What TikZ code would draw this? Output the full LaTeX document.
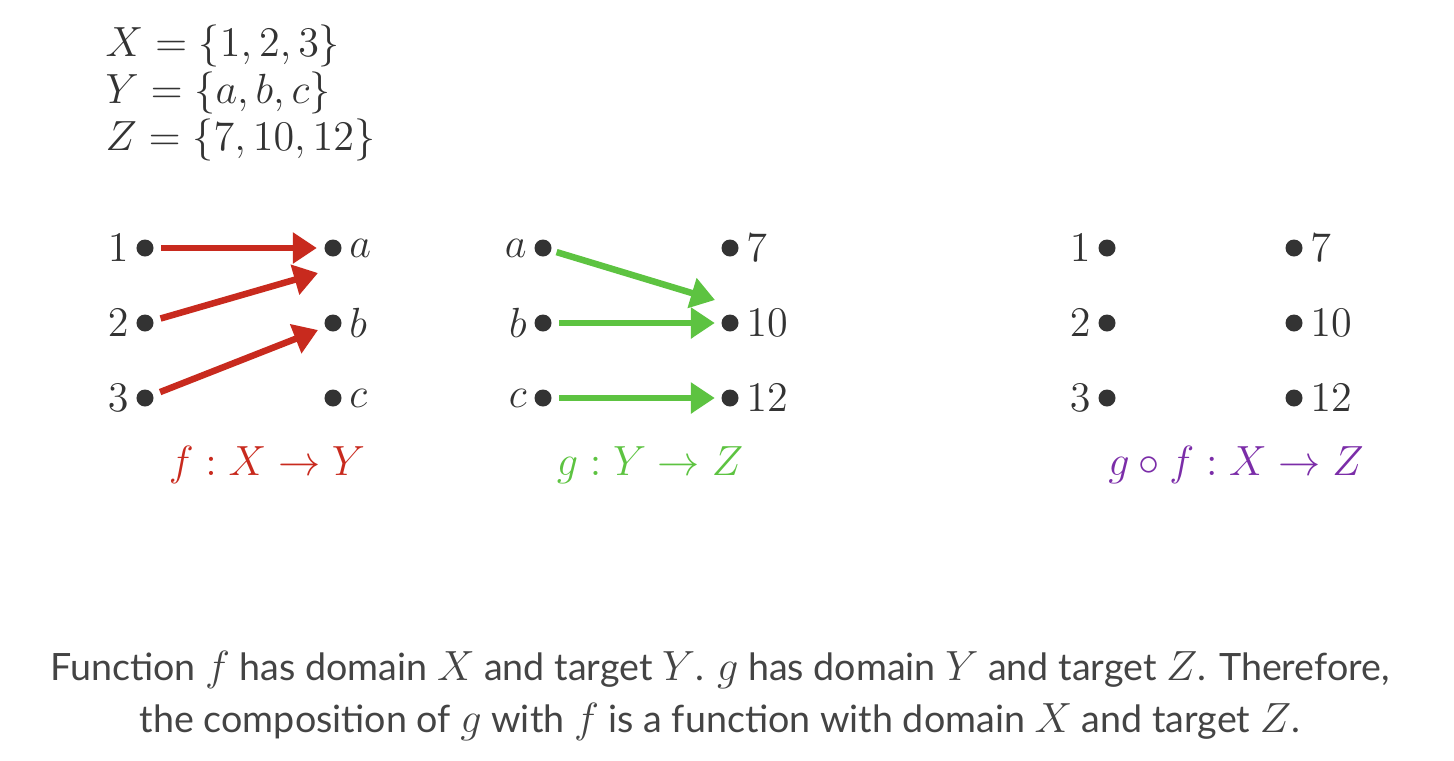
\documentclass[tikz,border=0pt]{standalone}
\usepackage{amsmath,amssymb}
\usepackage{fontspec}
\setsansfont{Lato}
\usepackage{xcolor}
\usetikzlibrary{arrows.meta,calc,positioning}

\definecolor{fred}{RGB}{200,42,30}
\definecolor{ggreen}{RGB}{93,195,65}
\definecolor{gfpurple}{RGB}{123,45,168}
\definecolor{dotgray}{RGB}{51,51,51}
\definecolor{capgray}{RGB}{68,68,68}

% larger math inside the sans caption
\newcommand{\capm}[1]{{\fontsize{12.5}{14}\selectfont$#1$}}

\tikzset{
  elem/.style={circle,fill=dotgray,inner sep=0pt,minimum size=0.17cm},
  lbl/.style={label distance=-1.5pt,text=dotgray},
  maparrow/.style={line width=0.065cm,-{Triangle[length=0.24cm,width=0.30cm]}},
}

\begin{document}
\begin{tikzpicture}[x=0.01cm,y=-0.01cm,font=\fontsize{12}{14}\selectfont,line join=round]
  \useasboundingbox (0,0) rectangle (1454,760);

  % ---- the three sets ----------------------------------------------------
  \node[anchor=north west,align=left,inner sep=0pt,text=dotgray,
        font=\fontsize{12}{13.4}\selectfont] (sets) at (105,24)
       {$X=\{1,2,3\}$\\ $Y=\{a,b,c\}$\\ $Z=\{7,10,12\}$};

  % ---- f : X -> Y --------------------------------------------------------
  \node[elem,label={[lbl]left:$1$}]  (fx1) at (145,248) {};
  \node[elem,label={[lbl]left:$2$}]  (fx2) at (145,323) {};
  \node[elem,label={[lbl]left:$3$}]  (fx3) at (145,398) {};
  \node[elem,label={[lbl]right:$a$}] (fya) at (333,248) {};
  \node[elem,label={[lbl]right:$b$}] (fyb) at (333,323) {};
  \node[elem,label={[lbl]right:$c$}] (fyc) at (333,398) {};

  \coordinate (fend2) at ($(fya)+(-15,25)$);
  \coordinate (fend3) at ($(fyb)+(-15,7)$);
  \draw[maparrow,fred,shorten <=0.07cm,shorten >=0.07cm] (fx1) -- (fya);
  \draw[maparrow,fred,shorten <=0.07cm] (fx2) -- (fend2);
  \draw[maparrow,fred,shorten <=0.07cm] (fx3) -- (fend3);

  \node[text=fred] (flbl) at (267,465) {$f:X\to Y$};

  % ---- g : Y -> Z --------------------------------------------------------
  \node[elem,label={[lbl]left:$a$}]   (gya) at (543,248) {};
  \node[elem,label={[lbl]left:$b$}]   (gyb) at (543,323) {};
  \node[elem,label={[lbl]left:$c$}]   (gyc) at (543,398) {};
  \node[elem,label={[lbl]right:$7$}]  (gz7)  at (730,248) {};
  \node[elem,label={[lbl]right:$10$}] (gz10) at (730,323) {};
  \node[elem,label={[lbl]right:$12$}] (gz12) at (730,398) {};

  \coordinate (gend1) at ($(gz10)+(-15,-23)$);
  \draw[maparrow,ggreen,shorten <=0.05cm] (gya) -- (gend1);
  \draw[maparrow,ggreen,shorten <=0.07cm,shorten >=0.06cm] (gyb) -- (gz10);
  \draw[maparrow,ggreen,shorten <=0.07cm,shorten >=0.06cm] (gyc) -- (gz12);

  \node[text=ggreen] (glbl) at (650,465) {$g:Y\to Z$};

  % ---- g o f : X -> Z ----------------------------------------------------
  \node[elem,label={[lbl]left:$1$}]   (cx1) at (1107,248) {};
  \node[elem,label={[lbl]left:$2$}]   (cx2) at (1107,323) {};
  \node[elem,label={[lbl]left:$3$}]   (cx3) at (1107,398) {};
  \node[elem,label={[lbl]right:$7$}]  (cz7)  at (1294,248) {};
  \node[elem,label={[lbl]right:$10$}] (cz10) at (1294,323) {};
  \node[elem,label={[lbl]right:$12$}] (cz12) at (1294,398) {};

  \node[text=gfpurple] (gflbl) at (1236,465) {$g\circ f:X\to Z$};

  % ---- caption -----------------------------------------------------------
  \node[align=center,text=capgray,font=\sffamily\fontsize{10.7}{14.8}\selectfont]
       (caption) at (720,696)
       {Function \capm{f} has domain \capm{X} and target \capm{Y}. \capm{g} has domain \capm{Y} and target \capm{Z}. Therefore,\\
        the composition of \capm{g} with \capm{f} is a function with domain \capm{X} and target \capm{Z}.};
\end{tikzpicture}
\end{document}
